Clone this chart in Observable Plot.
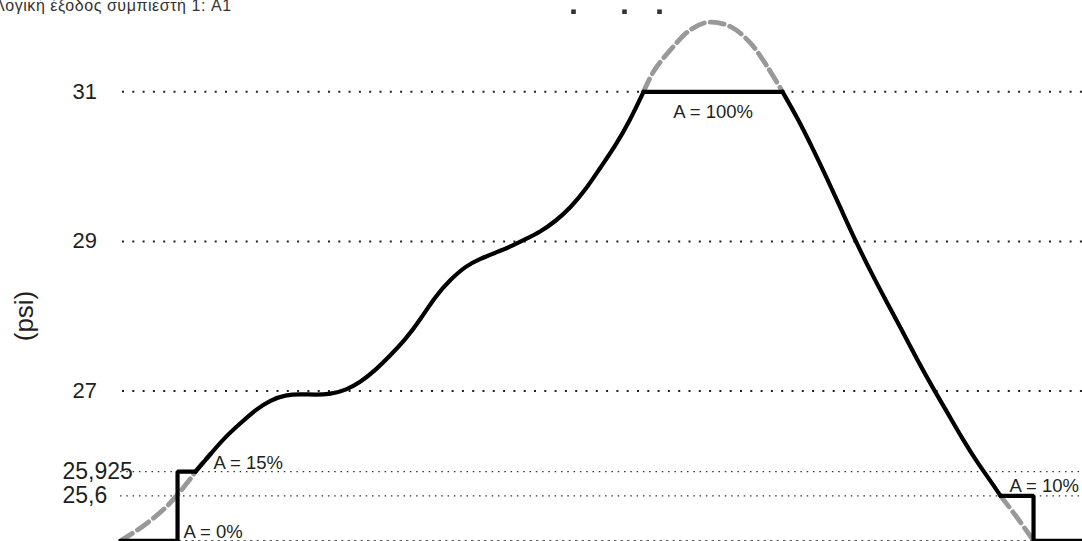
<!DOCTYPE html>
<html>
<head>
<meta charset="utf-8">
<script src="https://cdn.jsdelivr.net/npm/d3@7"></script>
<script src="https://cdn.jsdelivr.net/npm/@observablehq/plot@0.6"></script>
<style>
  html, body { margin: 0; padding: 0; background: #fff; }
  #wrap { position: relative; width: 1082px; height: 541px; overflow: hidden; }
  #title { position: absolute; left: -6px; top: -3px; font: 16px "Liberation Sans", Arial, sans-serif; letter-spacing: 0.55px; color: #333; white-space: nowrap; z-index: 2; }
  #ylabel { position: absolute; left: 24px; top: 316px; transform: translate(-50%, -50%) rotate(-90deg); font: 26px "Liberation Sans", Arial, sans-serif; color: #231f20; white-space: nowrap; z-index: 2; }
</style>
</head>
<body>
<div id="wrap">
  <div id="title"></div>
  <div id="ylabel"></div>
  <div id="chart"></div>
</div>
<script>
// ---- data (time in arbitrary units 0..100, pressure in psi) ----
const titleText = "Λογική έξοδος συμπιεστή 1: A1";
const yLabelText = "(psi)";

const gridMajor = [27, 29, 31];
const gridMinor = [25.925, 25.6];
const gridBase = [25];

// black controlled-output line pieces
const stepLeftT = [0, 5.93, 5.93, 7.80];
const stepLeftP = [25, 25, 25.925, 25.925];
const riseT = [7.80, 9.36, 10.91, 12.47, 14.03, 15.59, 17.15, 18.71, 20.27, 21.83, 23.39, 24.95, 26.51, 28.07, 29.63, 31.19, 32.74, 34.30, 35.86, 37.42, 38.98, 40.54, 42.10, 43.66, 45.22, 46.78, 48.34, 49.90, 51.46, 53.01, 54.37];
const riseP = [25.925, 26.16, 26.39, 26.57, 26.75, 26.88, 26.95, 26.96, 26.95, 26.96, 27.01, 27.12, 27.28, 27.48, 27.69, 27.96, 28.27, 28.49, 28.67, 28.77, 28.85, 28.93, 29.03, 29.13, 29.27, 29.45, 29.69, 29.99, 30.28, 30.63, 31];
const plateauT = [54.37, 68.81];
const plateauP = [31, 31];
const fallT = [68.81, 70.37, 71.93, 73.49, 75.05, 76.61, 78.17, 79.73, 81.29, 82.85, 84.41, 85.97, 87.53, 89.09, 90.44, 91.48];
const fallP = [31, 30.65, 30.25, 29.83, 29.39, 28.95, 28.55, 28.17, 27.80, 27.41, 27.05, 26.71, 26.36, 26.04, 25.80, 25.6];
const stepRightT = [91.48, 94.91, 94.91, 100];
const stepRightP = [25.6, 25.6, 25, 25];

// gray dashed demand curve (visible pieces)
const demandLeftT = [0, 2.39, 4.89, 7.28, 7.80, 9.36];
const demandLeftP = [25.0, 25.2, 25.47, 25.83, 25.925, 26.16];
const demandTopT = [54.37, 55.41, 57.17, 59.25, 61.12, 63.41, 65.49, 67.26, 68.81];
const demandTopP = [31, 31.27, 31.56, 31.83, 31.93, 31.87, 31.65, 31.33, 31];
const demandRightT = [91.48, 93.14, 94.91];
const demandRightP = [25.6, 25.32, 25.0];

// markers at top
const markerT = [47.09, 52.39, 56.03];
const markerP = [32.07, 32.07, 32.07];

// annotations
const annLabels = ["A = 0%", "A = 15%", "A = 100%", "A = 10%"];
const annT = [5.93, 7.80, 61.6, 91.48];
const annP = [25, 25.925, 31, 25.6];

// ---- build ----
document.getElementById("title").textContent = titleText;
document.getElementById("ylabel").textContent = yLabelText;

const zip = (ts, ps) => ts.map((t, i) => ({t, p: ps[i]}));
const fmt = d => String(d).replace(".", ",");
const font = '"Liberation Sans", Arial, sans-serif';

const steps = [
  ...zip(stepLeftT, stepLeftP).map(d => ({...d, g: "a"})),
  ...zip(plateauT, plateauP).map(d => ({...d, g: "b"})),
  ...zip(stepRightT, stepRightP).map(d => ({...d, g: "c"}))
];
const curves = [
  ...zip(riseT, riseP).map(d => ({...d, g: "r"})),
  ...zip(fallT, fallP).map(d => ({...d, g: "f"}))
];
const demand = [
  ...zip(demandLeftT, demandLeftP).map(d => ({...d, g: "l"})),
  ...zip(demandTopT, demandTopP).map(d => ({...d, g: "t"})),
  ...zip(demandRightT, demandRightP).map(d => ({...d, g: "r"}))
];
const anns = annLabels.map((s, i) => ({s, t: annT[i], p: annP[i]}));
const annStyle = {x: "t", y: "p", text: "s", lineAnchor: "bottom", fontSize: 18.5, fill: "#231f20"};

const chart = Plot.plot({
  width: 1082,
  height: 541,
  marginLeft: 120,
  marginRight: 0,
  marginTop: 0,
  marginBottom: 0,
  style: {fontFamily: font, background: "#fff", overflow: "visible"},
  x: {domain: [0, 100], axis: null},
  y: {domain: [24.99, 32.22], axis: null},
  marks: [
    Plot.ruleY(gridMajor, {stroke: "#222", strokeWidth: 2, strokeDasharray: "2,8.3", dx: 2}),
    Plot.ruleY(gridMinor, {stroke: "#333", strokeWidth: 1.2, strokeDasharray: "1.5,4.8"}),
    Plot.ruleY(gridBase, {stroke: "#333", strokeWidth: 1.2, strokeDasharray: "2.5,4"}),
    Plot.line(demand, {x: "t", y: "p", z: "g", curve: "catmull-rom", stroke: "#999", strokeWidth: 4.8, strokeDasharray: "14,6"}),
    Plot.line(curves, {x: "t", y: "p", z: "g", curve: "basis", stroke: "#000", strokeWidth: 4.2, strokeLinecap: "round"}),
    Plot.line(steps, {x: "t", y: "p", z: "g", stroke: "#000", strokeWidth: 4.2, strokeLinejoin: "miter"}),
    Plot.dot(zip(markerT, markerP), {x: "t", y: "p", symbol: "square", r: 2.6, fill: "#333", stroke: "none"}),
    Plot.text(gridMajor, {y: d => d, text: fmt, frameAnchor: "left", textAnchor: "start", dx: -48, fontSize: 22, fill: "#231f20"}),
    Plot.text(gridMinor, {y: d => d, text: fmt, frameAnchor: "left", textAnchor: "start", dx: -58, fontSize: 23, fill: "#231f20"}),
    Plot.text([anns[0]], {...annStyle, textAnchor: "start", dx: 6, dy: -3}),
    Plot.text([anns[1]], {...annStyle, textAnchor: "start", dx: 18, dy: -3}),
    Plot.text([anns[2]], {...annStyle, textAnchor: "middle", dy: 26}),
    Plot.text([anns[3]], {...annStyle, textAnchor: "start", dx: 9, dy: -4})
  ]
});
document.getElementById("chart").appendChild(chart);
</script>
</body>
</html>
